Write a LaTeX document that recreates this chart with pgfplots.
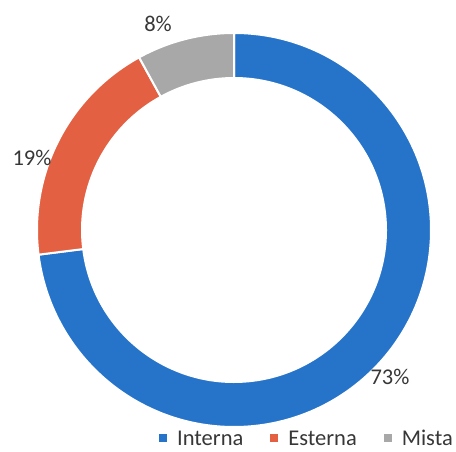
\documentclass[border=0pt]{standalone}
\usepackage{fontspec}
\setmainfont{Carlito}
\usepackage{pgfplots}
\usepackage{pgfplotstable}
\pgfplotsset{compat=1.18}
\definecolor{cInt}{RGB}{38,116,202}
\definecolor{cEst}{RGB}{228,96,66}
\definecolor{cMis}{RGB}{168,168,168}
\definecolor{cTxt}{RGB}{55,55,55}
\pgfplotstableread{
name value
Interna 73
Esterna 19
Mista 8
}\datatable
\begin{document}
\begin{tikzpicture}
\useasboundingbox (0,0) rectangle (456pt,452pt);
\pgfplotstablegetelem{0}{value}\of\datatable \edef\vA{\pgfplotsretval}
\pgfplotstablegetelem{1}{value}\of\datatable \edef\vB{\pgfplotsretval}
\pgfplotstablegetelem{2}{value}\of\datatable \edef\vC{\pgfplotsretval}
\pgfmathsetmacro\aO{90}
\pgfmathsetmacro\aA{90-3.6*\vA}
\pgfmathsetmacro\aB{\aA-3.6*\vB}
\pgfmathsetmacro\aC{\aB-3.6*\vC}
\def\Ro{197pt}
\def\Ri{152pt}
\begin{axis}[
  at={(0,0)}, anchor=origin,
  x=1pt, y=1pt,
  xmin=0, xmax=456, ymin=0, ymax=452,
  hide axis, clip=false,
  legend columns=3,
  legend style={draw=none, fill=none, at={(axis cs:453,6)}, anchor=south east,
    font=\fontsize{22.5}{27}\selectfont\color{cTxt}, inner sep=0pt,
    nodes={inner sep=0pt, text depth=0pt},
    /tikz/every odd column/.append style={column sep=11pt},
    /tikz/every even column/.append style={column sep=27pt}},
  legend cell align=left,
]
\addlegendimage{only marks, mark=square*, mark size=3.5pt, color=cInt}
\addlegendentry{Interna}
\addlegendimage{only marks, mark=square*, mark size=3.5pt, color=cEst}
\addlegendentry{Esterna}
\addlegendimage{only marks, mark=square*, mark size=3.5pt, color=cMis}
\addlegendentry{Mista}
\begin{scope}[shift={(axis cs:234,222)}]
\fill[cInt, draw=white, line width=2pt] (\aO:\Ro) arc[start angle=\aO, end angle=\aA, radius=\Ro] -- (\aA:\Ri) arc[start angle=\aA, end angle=\aO, radius=\Ri] -- cycle;
\fill[cEst, draw=white, line width=2pt] (\aA:\Ro) arc[start angle=\aA, end angle=\aB, radius=\Ro] -- (\aB:\Ri) arc[start angle=\aB, end angle=\aA, radius=\Ri] -- cycle;
\fill[cMis, draw=white, line width=2pt] (\aB:\Ro) arc[start angle=\aB, end angle=\aC, radius=\Ro] -- (\aC:\Ri) arc[start angle=\aC, end angle=\aB, radius=\Ri] -- cycle;
\end{scope}
\node[font=\fontsize{22.5}{27}\selectfont, text=cTxt] at (axis cs:390,75) {\vA\%};
\node[font=\fontsize{22.5}{27}\selectfont, text=cTxt] at (axis cs:32,294) {\vB\%};
\node[font=\fontsize{22.5}{27}\selectfont, text=cTxt] at (axis cs:158,428) {\vC\%};
\end{axis}
\end{tikzpicture}
\end{document}
